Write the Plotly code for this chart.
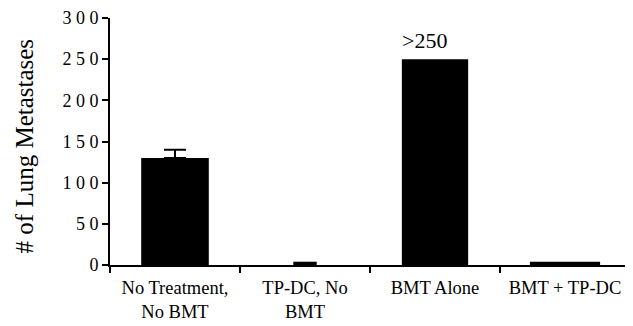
import plotly.graph_objects as go

categories = ["No Treatment,<br>No BMT", "TP-DC, No<br>BMT", "BMT Alone", "BMT + TP-DC"]
values = [130, 4, 250, 4]
error_category = [categories[0]]
error_value = [130]
error_plus = [10]
bar_widths = [0.52, 0.18, 0.51, 0.54]
y_tickvals = [0, 50, 100, 150, 200, 250, 300]
y_ticktext = ["0", "5 0", "1 0 0", "1 5 0", "2 0 0", "2 5 0", "3 0 0"]

FONT = "Liberation Serif, Times New Roman, serif"

fig = go.Figure()
fig.add_trace(go.Bar(
    x=categories, y=values, width=bar_widths,
    marker=dict(color="black", line=dict(width=0)),
))
fig.add_trace(go.Scatter(
    x=error_category, y=error_value, mode="markers",
    marker=dict(size=0.1, color="black", opacity=0),
    error_y=dict(type="data", array=error_plus, arrayminus=[0], visible=True,
                 color="black", thickness=2, width=11),
))

fig.add_annotation(x=categories[2], y=values[2], text=">250", showarrow=False,
                   yanchor="bottom", yshift=4, xshift=-11,
                   font=dict(family=FONT, size=22, color="black"))

fig.add_annotation(xref="paper", yref="paper", x=(24 - 110) / 520, y=0.48,
                   text="# of Lung Metastases", textangle=-90, showarrow=False,
                   xanchor="center", yanchor="middle",
                   font=dict(family=FONT, size=25, color="black"))

fig.update_layout(
    width=625, height=318,
    margin=dict(l=102, r=3, t=10, b=61, autoexpand=False),
    paper_bgcolor="white", plot_bgcolor="white",
    showlegend=False,
    font=dict(family=FONT, color="black"),
)
fig.update_xaxes(
    range=[-0.5, 3.5], showline=True, linecolor="black", linewidth=2,
    ticks="outside", tickson="boundaries", ticklen=6, tickwidth=2, tickcolor="black",
    tickfont=dict(family=FONT, size=18.5, color="black"), showgrid=False,
    ticklabelstandoff=5, automargin=False, ticklabeloverflow="allow",
)
fig.update_yaxes(
    range=[0, 300], showline=True, linecolor="black", linewidth=2,
    ticks="outside", ticklen=6, tickwidth=2, tickcolor="black",
    tickvals=y_tickvals, ticktext=y_ticktext,
    tickfont=dict(family=FONT, size=18, color="black"), showgrid=False, zeroline=False,
    automargin=False, ticklabeloverflow="allow",
)

fig.write_html("out.html")
